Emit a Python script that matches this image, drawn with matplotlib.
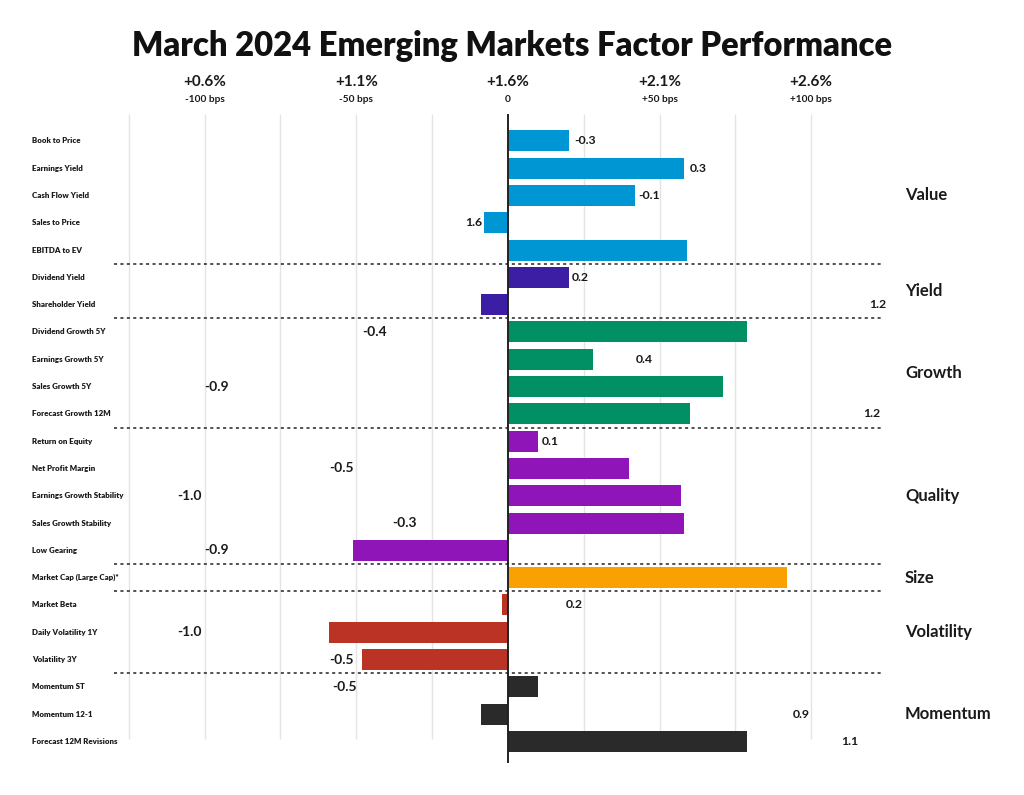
import matplotlib

matplotlib.use("Agg")
import matplotlib.pyplot as plt
import matplotlib.transforms as mtransforms

plt.rcParams["font.family"] = ["Lato", "DejaVu Sans"]

# factor names, top to bottom
factors = [
    "Book to Price", "Earnings Yield", "Cash Flow Yield", "Sales to Price", "EBITDA to EV",
    "Dividend Yield", "Shareholder Yield",
    "Dividend Growth 5Y", "Earnings Growth 5Y", "Sales Growth 5Y", "Forecast Growth 12M",
    "Return on Equity", "Net Profit Margin", "Earnings Growth Stability", "Sales Growth Stability", "Low Gearing",
    "Market Cap (Large Cap)*",
    "Market Beta", "Daily Volatility 1Y", "Volatility 3Y",
    "Momentum ST", "Momentum 12-1", "Forecast 12M Revisions",
]
# relative performance vs. the 1.6% benchmark, bps
perf_bps = [
    20, 58, 42, -8, 59,
    20, -9,
    79, 28, 71, 60,
    10, 40, 57, 58, -51,
    92,
    -2, -59, -48,
    10, -9, 79,
]
groups = ["Value", "Yield", "Growth", "Quality", "Size", "Volatility", "Momentum"]
group_sizes = [5, 2, 4, 5, 1, 3, 3]
group_colors = ["#0096d4", "#3b1ea3", "#009064", "#9015b8", "#f8a100", "#bb3324", "#2a2a2a"]

# stray value labels printed on the chart, with where they sit (bps)
value_labels = [
    "-0.3", "0.3", "-0.1", "1.6", "",
    "0.2", "1.2",
    "-0.4", "0.4", "-0.9", "1.2",
    "0.1", "-0.5", "-1.0", "-0.3", "-0.9",
    "",
    "0.2", "-1.0", "-0.5",
    "-0.5", "0.9", "1.1",
]
value_label_x = [
    22, 60, 43, -14, 0,
    21, 119,
    -48, 42, -100, 117,
    11, -59, -109, -38, -100,
    0,
    19, -109, -59,
    -58, 94, 110,
]

tick_bps = [-100, -50, 0, 50, 100]
tick_pct = ["+0.6%", "+1.1%", "+1.6%", "+2.1%", "+2.6%"]
tick_sub = ["-100 bps", "-50 bps", "0", "+50 bps", "+100 bps"]
grid_bps = [-125, -100, -75, -50, -25, 25, 50, 75, 100]

colors = []
for n, c in zip(group_sizes, group_colors):
    colors += [c] * n
rows = list(range(len(factors)))

fig = plt.figure(figsize=(10.24, 7.95), dpi=100)
ax = fig.add_axes([0, 0, 1, 1])
ax.set_xlim(-167.5, 170.2)
ax.set_ylim(23.96, -5.16)
ax.axis("off")

ax.vlines(grid_bps, -1.0, 21.9, color="#e4e4e4", linewidth=1.0, zorder=0)
ax.barh(rows, perf_bps, height=0.77, color=colors, zorder=2)
ax.vlines(0, -1.0, 22.8, color="#222222", linewidth=1.4, zorder=3)

# dotted separators between factor groups
bounds = []
acc = 0
for n in group_sizes[:-1]:
    acc += n
    bounds.append(acc - 0.5)
ax.hlines(bounds, -130, 124, color="#222222", linewidth=1.1, linestyles=(0, (2, 2.2)), zorder=3)

ax_x = mtransforms.blended_transform_factory(ax.transAxes, ax.transData)
for r, name in zip(rows, factors):
    ax.text(32 / 1024, r, name, transform=ax_x, ha="left", va="center",
            fontsize=5.7, fontweight="heavy", color="#1a1a1a")

for r, lab, lx in zip(rows, value_labels, value_label_x):
    if lab:
        big = lab.startswith("-") and lx < -20
        ax.text(lx, r, lab, ha="left", va="center", fontsize=10 if big else 8.8,
                fontweight="bold", color="#1a1a1a")

start = 0
for name, n in zip(groups, group_sizes):
    ax.text(905 / 1024, start + (n - 1) / 2, name, transform=ax_x, ha="left", va="center",
            fontsize=12, fontweight="bold", color="#1a1a1a")
    start += n

for b, p, s in zip(tick_bps, tick_pct, tick_sub):
    ax.text(b, -2.16, p, ha="center", va="center", fontsize=11, fontweight="bold", color="#1a1a1a")
    ax.text(b, -1.5, s, ha="center", va="center", fontsize=7.3, fontweight="bold", color="#1a1a1a")

fig.text(0.5, 1 - 46 / 795, "March 2024 Emerging Markets Factor Performance",
         ha="center", va="center", fontsize=23.6, fontweight="heavy", color="#111111")

fig.savefig("out.png", dpi=100, facecolor="white")
